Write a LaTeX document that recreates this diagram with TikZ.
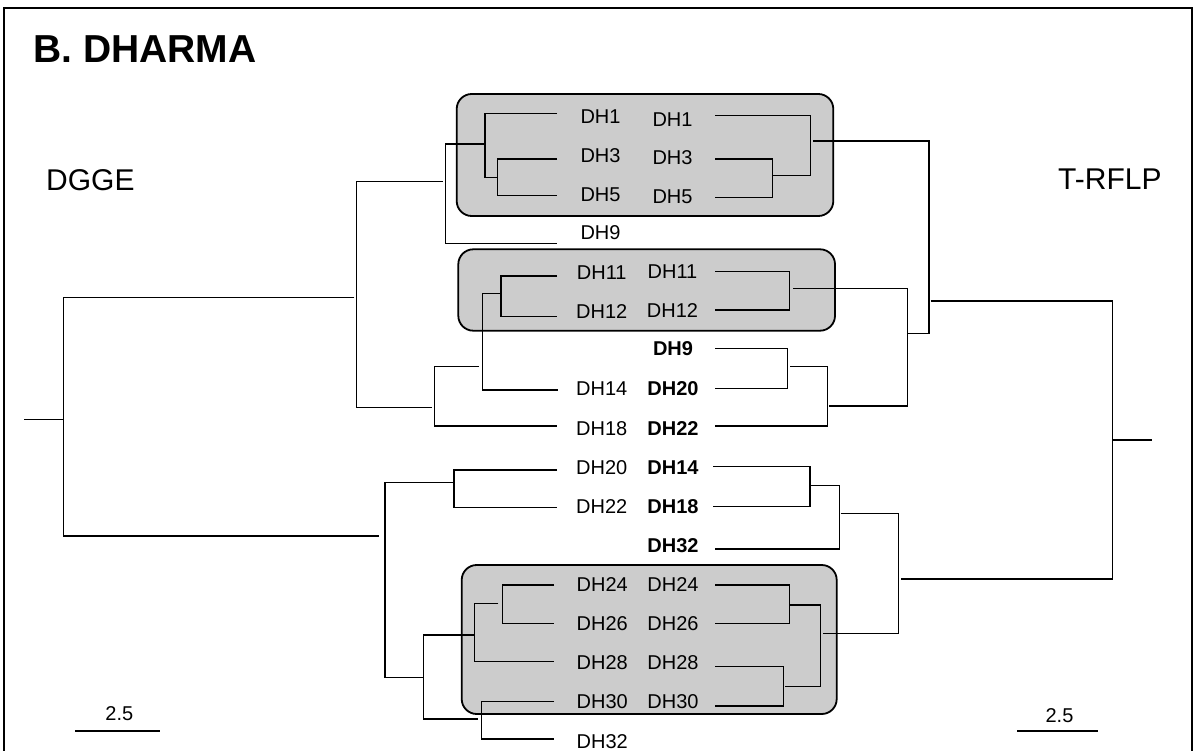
\documentclass[tikz,border=0pt]{standalone}
\usepackage{fontspec}
\setmainfont{Liberation Sans}
\begin{document}
\begin{tikzpicture}[x=1pt,y=-1pt,
  tree/.style={line width=1.4pt, line cap=butt, line join=miter},
  frame/.style={line width=2pt},
  cluster/.style={fill=black!20, draw=black, line width=1.8pt, rounded corners=15pt},
  lab/.style={inner sep=0pt, font=\fontsize{20}{22}\selectfont},
  blab/.style={inner sep=0pt, font=\bfseries\fontsize{20}{22}\selectfont},
  side/.style={inner sep=0pt, anchor=base west, font=\fontsize{30}{32}\selectfont}]
\useasboundingbox (0,0) rectangle (1198,751);
\fill[white] (0,0) rectangle (1198,751);
% frame
\draw[frame] (4,770) -- (4,8) -- (1192,8) -- (1192,770);
% titles
\node[inner sep=0pt, anchor=base west, font=\bfseries\fontsize{39}{40}\selectfont] (title) at (33,63) {B. DHARMA};
\node[side] (dgge) at (46,191) {DGGE};
\node[side] (trflp) at (1058,190) {T-RFLP};
% cluster boxes
\draw[cluster] (456.7,94) rectangle (833.3,216);
\draw[cluster] (458.3,249.3) rectangle (835,330.7);
\draw[cluster] (461.7,565) rectangle (836.7,714);
% left labels
\node[lab] (l1)  at (600.5,116.3) {DH1};
\node[lab] (l3)  at (600.5,155.5) {DH3};
\node[lab] (l5)  at (600.5,194.7) {DH5};
\node[lab] (l9)  at (600.5,232.8) {DH9};
\node[lab] (l11) at (601.7,273) {DH11};
\node[lab] (l12) at (601.7,311.7) {DH12};
\node[lab] (l14) at (601.7,389) {DH14};
\node[lab] (l18) at (601.7,428.3) {DH18};
\node[lab] (l20) at (601.7,467.5) {DH20};
\node[lab] (l22) at (601.7,506.7) {DH22};
\node[lab] (l24) at (602.2,585) {DH24};
\node[lab] (l26) at (602.2,623.8) {DH26};
\node[lab] (l28) at (602.2,663) {DH28};
\node[lab] (l30) at (602.2,702) {DH30};
\node[lab] (l32) at (602.2,741.7) {DH32};
% right labels
\node[lab] (r1)  at (672.5,120) {DH1};
\node[lab] (r3)  at (672.5,157.5) {DH3};
\node[lab] (r5)  at (672.5,196.3) {DH5};
\node[lab] (r11) at (672.5,271.7) {DH11};
\node[lab] (r12) at (672.5,310.3) {DH12};
\node[blab] (r9)  at (673,348.8) {DH9};
\node[blab] (r20) at (673,389) {DH20};
\node[blab] (r22) at (673,428.3) {DH22};
\node[blab] (r14) at (673,467.5) {DH14};
\node[blab] (r18) at (673,506.7) {DH18};
\node[blab] (r32) at (673,546) {DH32};
\node[lab] (r24) at (673,585) {DH24};
\node[lab] (r26) at (673,623.8) {DH26};
\node[lab] (r28) at (673,663) {DH28};
\node[lab] (r30) at (673,702) {DH30};
% ---------------- left tree (DGGE)
\draw[tree] (557,113.3) -- (485,113.3) -- (485,177.7) -- (497.7,177.7);
\draw[tree] (557,159) -- (497.7,159) -- (497.7,195.7) -- (557,195.7);
\draw[tree] (485,144) -- (445.7,144) -- (445.7,243.3) -- (557,243.3);
\draw[tree] (442.7,181.7) -- (356.7,181.7) -- (356.7,407.7) -- (431.7,407.7);
\draw[tree] (557,276) -- (501,276) -- (501,316.7) -- (557,316.7);
\draw[tree] (501,293.3) -- (482.7,293.3) -- (482.7,390) -- (558,390);
\draw[tree] (479,366.7) -- (434.3,366.7) -- (434.3,426) -- (557,426);
\draw[tree] (24,419.7) -- (63.3,419.7);
\draw[tree] (354.3,297.7) -- (63.3,297.7) -- (63.3,536) -- (379.3,536);
\draw[tree] (423.3,677.7) -- (385,677.7) -- (385,482.7) -- (454,482.7);
\draw[tree] (557,470) -- (454,470) -- (454,507.3) -- (557,507.3);
\draw[tree] (474.7,635) -- (423.3,635) -- (423.3,719) -- (477.7,719);
\draw[tree] (498.3,603.3) -- (474.7,603.3) -- (474.7,661.7) -- (554,661.7);
\draw[tree] (554,585) -- (502.7,585) -- (502.7,623.3) -- (554,623.3);
\draw[tree] (554,701.7) -- (481.7,701.7) -- (481.7,739) -- (554,739);
% ---------------- right tree (T-RFLP)
\draw[tree] (715,115.5) -- (810.7,115.5) -- (810.7,175.7) -- (772.7,175.7);
\draw[tree] (715,159) -- (772.7,159) -- (772.7,197.3) -- (715,197.3);
\draw[tree] (813.3,141) -- (929,141) -- (929,333.3) -- (908.3,333.3);
\draw[tree] (930.7,301) -- (1112.3,301) -- (1112.3,579) -- (901,579);
\draw[tree] (1112.3,440) -- (1152.3,440);
\draw[tree] (715,271.7) -- (789.3,271.7) -- (789.3,310) -- (715,310);
\draw[tree] (793.3,288.3) -- (907.3,288.3) -- (907.3,406) -- (829.3,406);
\draw[tree] (715,348.3) -- (787.7,348.3) -- (787.7,388.3) -- (715,388.3);
\draw[tree] (790,366.7) -- (827.3,366.7) -- (827.3,426) -- (715,426);
\draw[tree] (713,466.7) -- (810,466.7) -- (810,506.7) -- (713,506.7);
\draw[tree] (810,485.7) -- (839.3,485.7) -- (839.3,549) -- (715,549);
\draw[tree] (840.7,513.7) -- (898.3,513.7) -- (898.3,633.3) -- (823.3,633.3);
\draw[tree] (715,585) -- (789.3,585) -- (789.3,623.3) -- (715,623.3);
\draw[tree] (789.3,605) -- (820.7,605) -- (820.7,686.7) -- (785,686.7);
\draw[tree] (715,666.7) -- (783.3,666.7) -- (783.3,706) -- (715,706);
% scale bars
\node[lab] (s1) at (119.3,714) {2.5};
\draw[tree] (75,731) -- (160,731);
\node[lab] (s2) at (1059.5,716) {2.5};
\draw[tree] (1017.3,731) -- (1098.3,731);
\end{tikzpicture}
\end{document}
